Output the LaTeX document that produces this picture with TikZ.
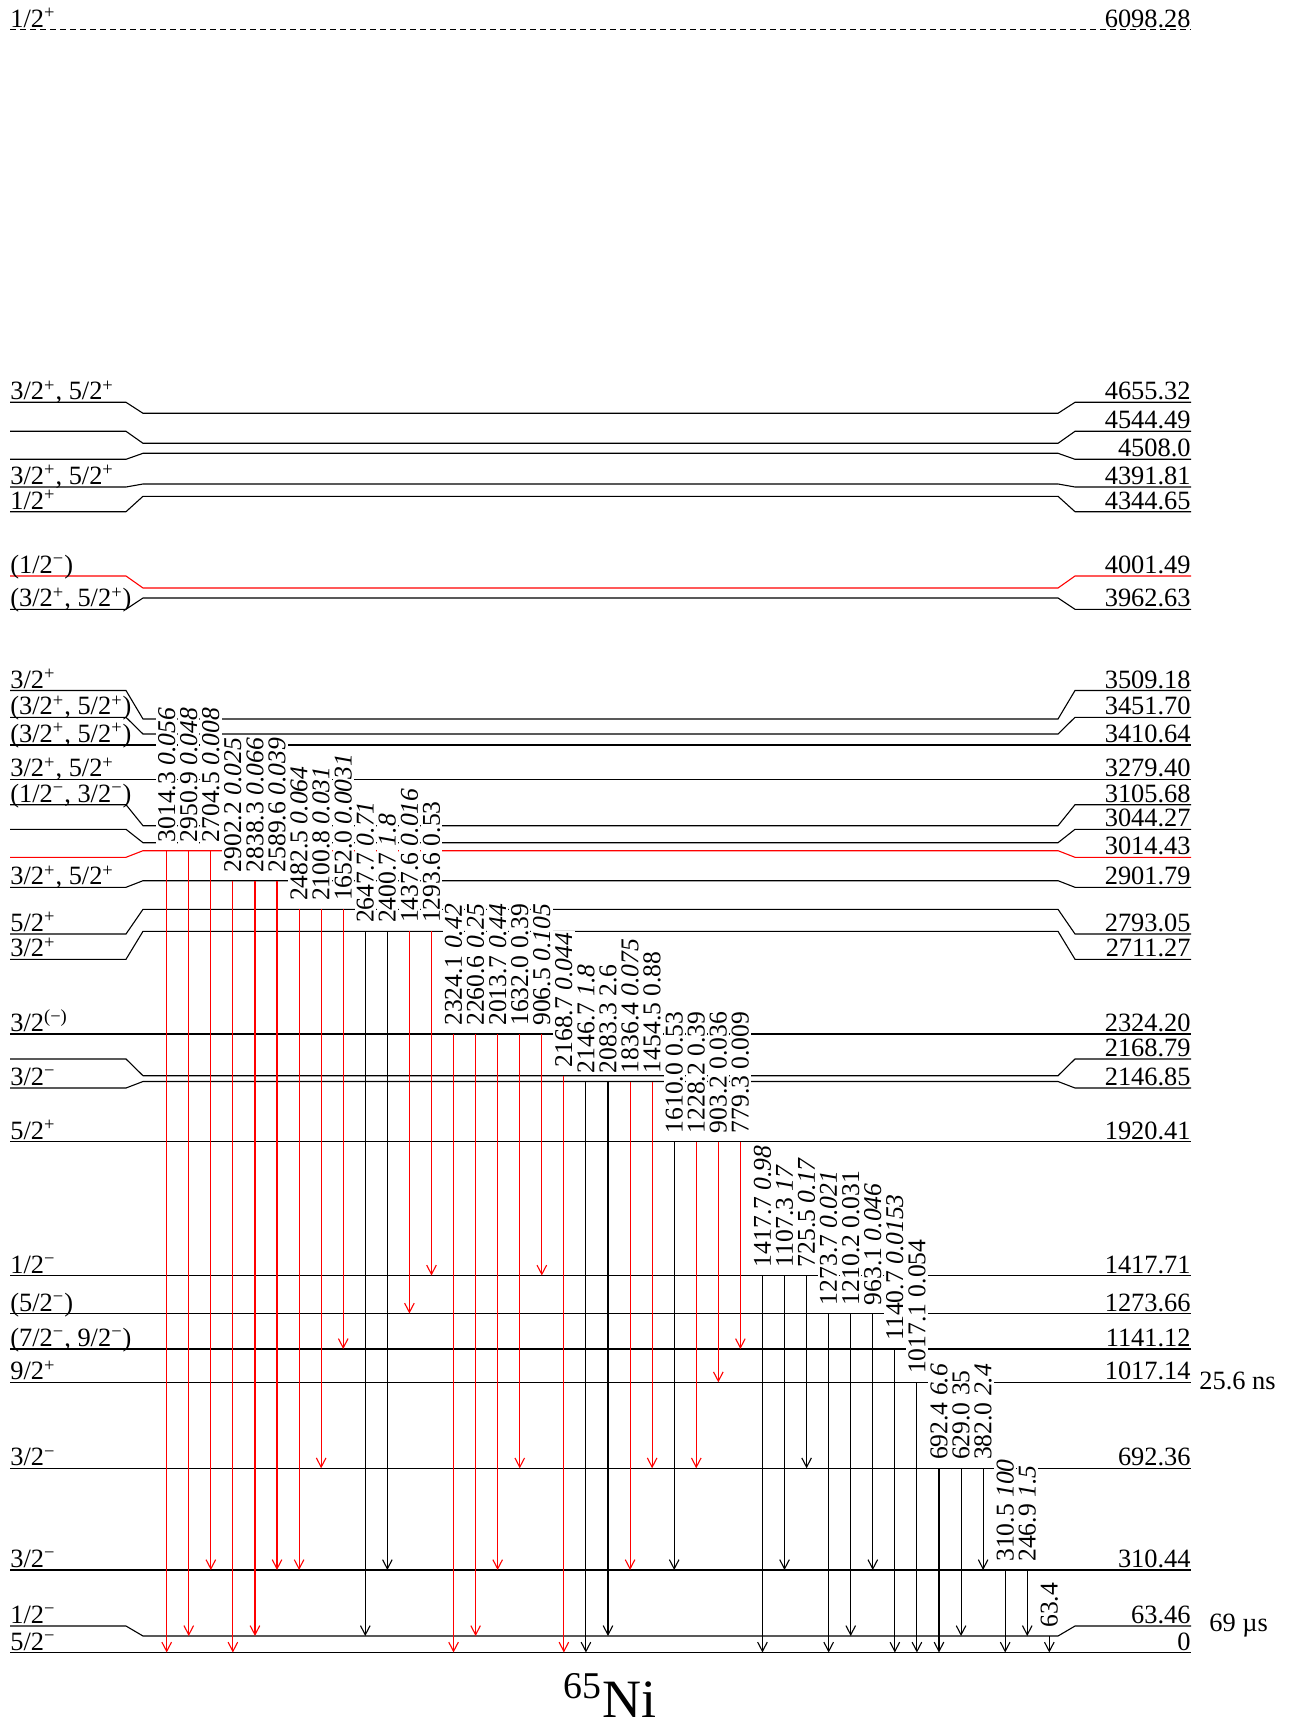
\documentclass[tikz,border=0pt]{standalone}
\usepackage{fontspec}
\setmainfont{Liberation Serif}
\usetikzlibrary{arrows.meta,calc}

\newcommand{\jpl}{\textsuperscript{+}}
\newcommand{\jmi}{\textsuperscript{−}}

\tikzset{
  lvl/.style={line width=0.55pt},
  gam/.style={line width=0.55pt,-{Straight Barb[length=4.6pt,width=4.8pt]}},
  gamlab/.style={rotate=90,anchor=west,fill=white,inner sep=1pt,
    font=\fontsize{12.8}{14}\selectfont},
  spin/.style={anchor=base west,inner sep=0pt},
  energy/.style={anchor=base east,inner sep=0pt},
}

\begin{document}
\begin{tikzpicture}[x=0.5pt,y=-0.5pt,font=\fontsize{13.2}{15}\selectfont]
  \useasboundingbox (0,0) rectangle (1293,1727);

  % level: name, label height, line height, spin, energy, colour
  \newcommand{\level}[6]{
    \draw[lvl,#6] (10,#2) -- (126,#2) -- (143,#3) -- (1058,#3) -- (1075,#2) -- (1191,#2);
    \coordinate (lv#1) at (0,#3);
    \node[spin] (sp#1) at (10,#2-2.5) {#4};
    \node[energy] (en#1) at (1191,#2-2.5) {#5};
  }

  % top level, dashed
  \draw[lvl,dash pattern=on 3pt off 2pt] (10,29.7) -- (1191,29.7);
  \node[spin] (sp6098) at (10,27.2) {1/2\jpl};
  \node[energy] (en6098) at (1191,27.2) {6098.28};

  \level{4655}{402.3}{413.3}{3/2\jpl, 5/2\jpl}{4655.32}{}
  \level{4544}{431.3}{443.3}{}{4544.49}{}
  \level{4508}{459.3}{453.3}{}{4508.0}{}
  \level{4391}{487}{484}{3/2\jpl, 5/2\jpl}{4391.81}{}
  \level{4344}{511.7}{496.3}{1/2\jpl}{4344.65}{}
  \level{4001}{576}{588}{(1/2\jmi)}{4001.49}{red}
  \level{3962}{609.3}{598}{(3/2\jpl, 5/2\jpl)}{3962.63}{}
  \level{3509}{690.5}{719}{3/2\jpl}{3509.18}{}
  \level{3451}{717.3}{734}{(3/2\jpl, 5/2\jpl)}{3451.70}{}
  \level{3410}{745}{745}{(3/2\jpl, 5/2\jpl)}{3410.64}{}
  \level{3279}{779.3}{779.3}{3/2\jpl, 5/2\jpl}{3279.40}{}
  \level{3105}{804.7}{825.7}{(1/2\jmi, 3/2\jmi)}{3105.68}{}
  \level{3044}{829.3}{842.7}{}{3044.27}{}
  \level{3014}{857.3}{850.7}{}{3014.43}{red}
  \level{2901}{887.3}{880.7}{3/2\jpl, 5/2\jpl}{2901.79}{}
  \level{2793}{934}{909.3}{5/2\jpl}{2793.05}{}
  \level{2711}{959.3}{931.3}{3/2\jpl}{2711.27}{}
  \level{2324}{1034}{1034}{3/2\textsuperscript{(−)}}{2324.20}{}
  \level{2168}{1059}{1075.7}{}{2168.79}{}
  \level{2146}{1088}{1081.5}{3/2\jmi}{2146.85}{}
  \level{1920}{1141.7}{1141.7}{5/2\jpl}{1920.41}{}
  \level{1417}{1275.5}{1275.5}{1/2\jmi}{1417.71}{}
  \level{1273}{1313.5}{1313.5}{(5/2\jmi)}{1273.66}{}
  \level{1141}{1349}{1349}{(7/2\jmi, 9/2\jmi)}{1141.12}{}
  \level{1017}{1382.3}{1382.3}{9/2\jpl}{1017.14}{}
  \level{692}{1468.3}{1468.3}{3/2\jmi}{692.36}{}
  \level{310}{1570}{1570}{3/2\jmi}{310.44}{}
  \level{63}{1626}{1636}{1/2\jmi}{63.46}{}
  \level{0}{1652.5}{1652.5}{5/2\jmi}{0}{}

  % half-lives
  \node[anchor=west,inner sep=0pt] (t1017) at (1199,1381) {25.6 ns};
  \node[anchor=west,inner sep=0pt] (t63) at (1209,1626) {69 µs};

  % gamma transitions
  \foreach \from/\to/\txt/\col [count=\n from 0] in {
    3014/0/{3014.3 \textit{0.056}}/red,
    3014/63/{2950.9 \textit{0.048}}/red,
    3014/310/{2704.5 \textit{0.008}}/red,
    2901/0/{2902.2 \textit{0.025}}/red,
    2901/63/{2838.3 \textit{0.066}}/red,
    2901/310/{2589.6 \textit{0.039}}/red,
    2793/310/{2482.5 \textit{0.064}}/red,
    2793/692/{2100.8 \textit{0.031}}/red,
    2793/1141/{1652.0 \textit{0.0031}}/red,
    2711/63/{2647.7 \textit{0.71}}/black,
    2711/310/{2400.7 \textit{1.8}}/black,
    2711/1273/{1437.6 \textit{0.016}}/red,
    2711/1417/{1293.6 0.53}/red,
    2324/0/{2324.1 \textit{0.42}}/red,
    2324/63/{2260.6 \textit{0.25}}/red,
    2324/310/{2013.7 \textit{0.44}}/red,
    2324/692/{1632.0 0.39}/red,
    2324/1417/{906.5 \textit{0.105}}/red,
    2168/0/{2168.7 \textit{0.044}}/red,
    2146/0/{2146.7 \textit{1.8}}/black,
    2146/63/{2083.3 2.6}/black,
    2146/310/{1836.4 \textit{0.075}}/red,
    2146/692/{1454.5 0.88}/red,
    1920/310/{1610.0 0.53}/black,
    1920/692/{1228.2 0.39}/red,
    1920/1017/{903.2 0.036}/red,
    1920/1141/{779.3 0.009}/red,
    1417/0/{1417.7 \textit{0.98}}/black,
    1417/310/{1107.3 \textit{17}}/black,
    1417/692/{725.5 \textit{0.17}}/black,
    1273/0/{1273.7 \textit{0.021}}/black,
    1273/63/{1210.2 0.031}/black,
    1273/310/{963.1 \textit{0.046}}/black,
    1141/0/{1140.7 \textit{0.0153}}/black,
    1017/0/{1017.1 0.054}/black,
    692/0/{692.4 \textit{6.6}}/black,
    692/63/{629.0 35}/black,
    692/310/{382.0 \textit{2.4}}/black,
    310/0/{310.5 \textit{100}}/black,
    310/63/{246.9 \textit{1.5}}/black,
    63/0/{63.4}/black} {
    \coordinate (col\n) at ({166.7+22.065*\n},0);
    \draw[gam,\col] (col\n |- lv\from) -- (col\n |- lv\to);
    \node[gamlab] (g\n) at ($(col\n |- lv\from)+(0,-6)$) {\txt};
  }

  \node[font=\fontsize{27}{30}\selectfont,anchor=base,inner sep=0pt] (title) at (610,1717) {\textsuperscript{65}Ni};
\end{tikzpicture}
\end{document}
